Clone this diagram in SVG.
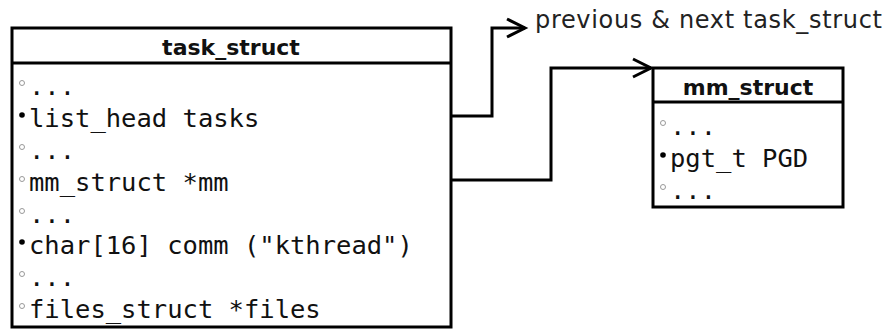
<svg xmlns="http://www.w3.org/2000/svg" width="888" height="331" viewBox="0 0 888 331">
  <style>
    .box { fill: #fff; stroke: #000; stroke-width: 3; }
    .sep { stroke: #000; stroke-width: 3; }
    .title { font-family: "DejaVu Sans", "Liberation Sans", sans-serif; font-weight: bold; font-size: 22px; fill: #111; text-anchor: middle; }
    .field { font-family: "DejaVu Sans Mono", "Liberation Mono", monospace; font-size: 25.5px; fill: #111; }
    .label { font-family: "DejaVu Sans", "Liberation Sans", sans-serif; font-size: 24px; fill: #222; }
    .pub { fill: #000; }
    .priv { fill: #fff; stroke: #999; stroke-width: 1; }
    .wire { fill: none; stroke: #000; stroke-width: 3; }
  </style>
  <defs>
    <marker id="open-arrow" markerUnits="userSpaceOnUse" markerWidth="24" markerHeight="24" refX="19" refY="10" orient="auto" overflow="visible">
      <path d="M1,1 L19,10 L1,19" fill="none" stroke="#000" stroke-width="3"/>
    </marker>
  </defs>

  <rect width="888" height="331" fill="#fff"/>

  <!-- connectors -->
  <g id="connectors">
    <path class="wire" d="M451,116 H492 V28 H525" marker-end="url(#open-arrow)"/>
    <path class="wire" d="M451,180 H551 V68 H651" marker-end="url(#open-arrow)"/>
    <text class="label" x="535" y="28" textLength="347" lengthAdjust="spacing">previous &amp; next task_struct</text>
  </g>

  <!-- task_struct -->
  <g id="task_struct">
    <rect class="box" x="12" y="28" width="439" height="299"/>
    <line class="sep" x1="12" y1="63" x2="451" y2="63"/>
    <text class="title" x="231" y="55">task_struct</text>
    <circle class="priv" cx="22" cy="83" r="2.5"/>
    <text class="field" x="29" y="95">...</text>
    <circle class="pub" cx="22" cy="115" r="2.8"/>
    <text class="field" x="29" y="127">list_head tasks</text>
    <circle class="priv" cx="22" cy="147" r="2.5"/>
    <text class="field" x="29" y="159">...</text>
    <circle class="priv" cx="22" cy="179" r="2.5"/>
    <text class="field" x="29" y="191">mm_struct *mm</text>
    <circle class="priv" cx="22" cy="211" r="2.5"/>
    <text class="field" x="29" y="223">...</text>
    <circle class="pub" cx="22" cy="242" r="2.8"/>
    <text class="field" x="29" y="254">char[16] comm ("kthread")</text>
    <circle class="priv" cx="22" cy="274" r="2.5"/>
    <text class="field" x="29" y="286">...</text>
    <circle class="priv" cx="22" cy="306" r="2.5"/>
    <text class="field" x="29" y="318">files_struct *files</text>
  </g>

  <!-- mm_struct -->
  <g id="mm_struct">
    <rect class="box" x="653" y="68" width="190" height="139"/>
    <line class="sep" x1="653" y1="102" x2="843" y2="102"/>
    <text class="title" x="748" y="95">mm_struct</text>
    <circle class="priv" cx="663" cy="123" r="2.5"/>
    <text class="field" x="670" y="135">...</text>
    <circle class="pub" cx="663" cy="155" r="2.8"/>
    <text class="field" x="670" y="167">pgt_t PGD</text>
    <circle class="priv" cx="663" cy="187" r="2.5"/>
    <text class="field" x="670" y="199">...</text>
  </g>
</svg>
